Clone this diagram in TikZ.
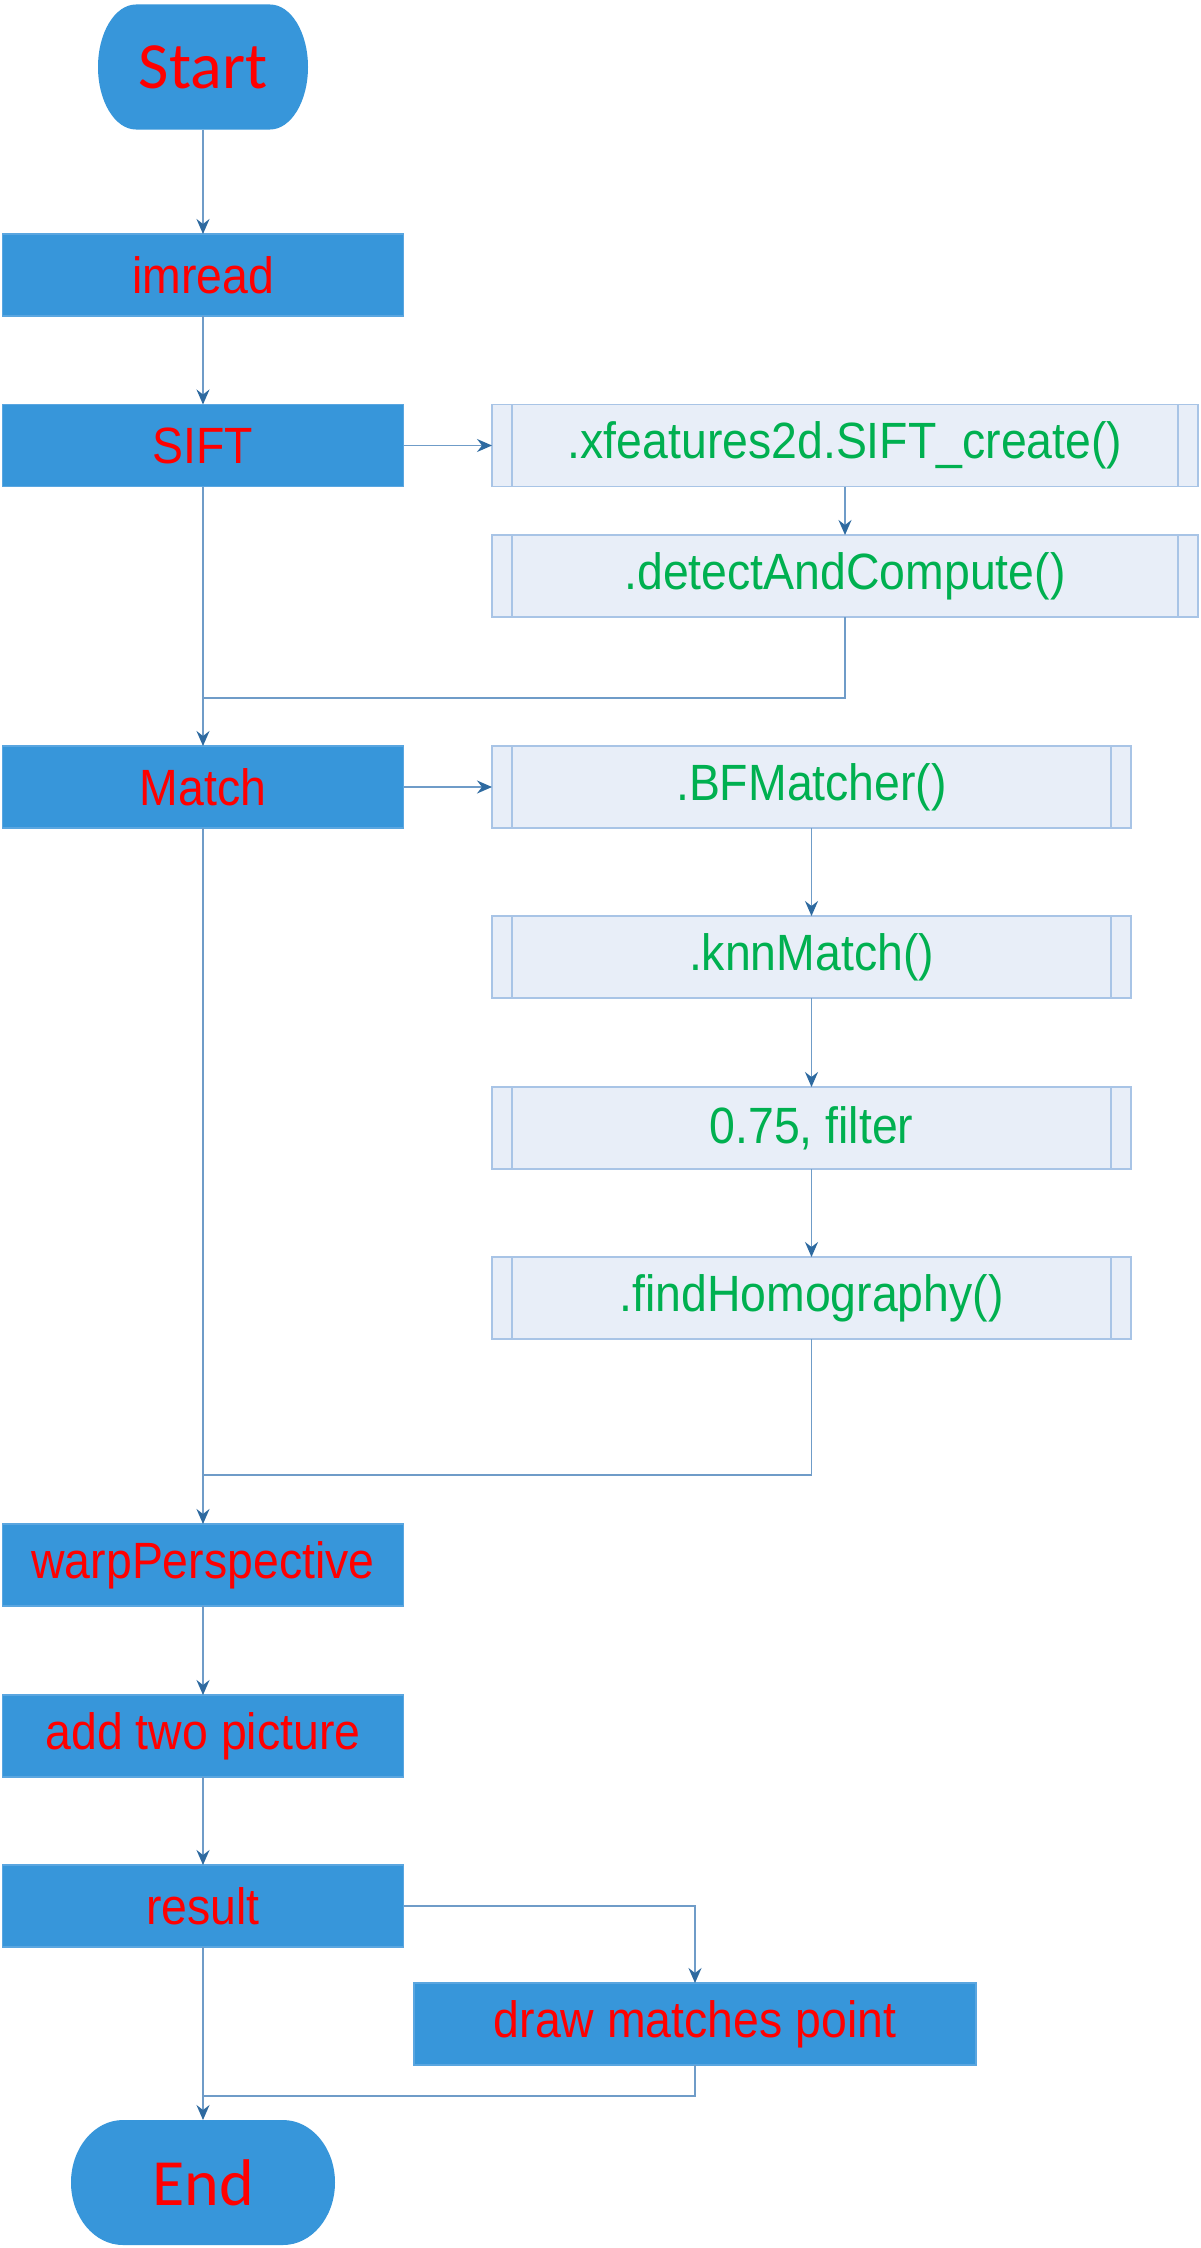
\documentclass[tikz,border=0pt]{standalone}
\usepackage{fontspec}
\usepackage{graphicx}
\setmainfont{Liberation Sans}
\newfontfamily\calib{Carlito}
\usetikzlibrary{arrows.meta}
\pgfdeclarelayer{background}
\pgfsetlayers{background,main}
\definecolor{boxblue}{HTML}{3796DA}
\definecolor{boxedge}{HTML}{5AA6E0}
\definecolor{lightfill}{HTML}{E8EEF8}
\definecolor{lightedge}{HTML}{A8C4E6}
\definecolor{linecol}{HTML}{6F9CC8}
\definecolor{tipcol}{HTML}{2E6AA0}
\definecolor{txtgreen}{HTML}{00B050}
\definecolor{txtred}{HTML}{FF0000}
\newcommand{\cnd}[1]{\scalebox{0.91}[1]{#1}}
\tikzset{
  every node/.style={inner sep=0pt, outer sep=0pt},
  mainbox/.style={draw=boxedge, fill=boxblue, line width=1.5pt, minimum width=401pt, minimum height=82pt, text=txtred, font=\fontsize{51}{56}\selectfont},
  termtext/.style={minimum height=125pt, text=txtred, font=\calib\fontsize{66}{70}\selectfont},
  subbox/.style={draw=lightedge, fill=lightfill, line width=1.5pt, minimum height=82pt, text=txtgreen, font=\fontsize{51}{56}\selectfont},
  conn/.style={draw=linecol, line width=1.6pt},
  arr/.style={conn, -{Stealth[length=15pt,width=13pt,inset=5pt,color=tipcol]}},
}
\begin{document}
\begin{tikzpicture}[x=1pt,y=-1pt]
\useasboundingbox (0,0) rectangle (1200,2248);
% main column
\node[termtext, minimum width=210pt] (start) at (203,67) {Start};
\node[mainbox] (imread) at (203,275) {\cnd{imread}};
\node[mainbox] (sift) at (203,445.5) {\cnd{SIFT}};
\node[mainbox] (match) at (203,787) {\cnd{Match}};
\node[mainbox] (warp) at (203,1565) {\cnd{warpPerspective}};
\node[mainbox] (add) at (203,1736) {\cnd{add two picture}};
\node[mainbox] (result) at (203,1906) {\cnd{result}};
\node[termtext, minimum width=264pt] (end) at (203,2182.5) {End};
% background and terminator shapes
\begin{pgfonlayer}{background}
\fill[white] (0,0) rectangle (1200,2248);
\fill[boxblue] ([xshift=38pt]start.north west) -- ([xshift=-38pt]start.north east)
  arc[start angle=90, end angle=-90, x radius=38pt, y radius=62.5pt]
  -- ([xshift=38pt]start.south west)
  arc[start angle=270, end angle=90, x radius=38pt, y radius=62.5pt] -- cycle;
\fill[boxblue] ([xshift=52pt]end.north west) -- ([xshift=-52pt]end.north east)
  arc[start angle=90, end angle=-90, x radius=52pt, y radius=62.5pt]
  -- ([xshift=52pt]end.south west)
  arc[start angle=270, end angle=90, x radius=52pt, y radius=62.5pt] -- cycle;
\end{pgfonlayer}
% right column
\node[subbox, minimum width=706pt] (xfeat) at (845,445.5) {\cnd{.xfeatures2d.SIFT\_create()}};
\node[subbox, minimum width=706pt] (detect) at (845,576) {\cnd{.detectAndCompute()}};
\node[subbox, minimum width=639pt] (bf) at (811.5,787) {\cnd{.BFMatcher()}};
\node[subbox, minimum width=639pt] (knn) at (811.5,957) {\cnd{.knnMatch()}};
\node[subbox, minimum width=639pt] (filt) at (811.5,1128) {\cnd{0.75, filter}};
\node[subbox, minimum width=639pt] (findh) at (811.5,1298) {\cnd{.findHomography()}};
\node[mainbox, minimum width=562pt] (drawm) at (695,2024) {\cnd{draw matches point}};
% inner side lines of the sub-process boxes
\foreach \n in {xfeat,detect,bf,knn,filt,findh}{
  \draw[lightedge, line width=1.5pt] ([xshift=20pt]\n.north west) -- ([xshift=20pt]\n.south west);
  \draw[lightedge, line width=1.5pt] ([xshift=-20pt]\n.north east) -- ([xshift=-20pt]\n.south east);
}
% join coordinates
\coordinate (j1) at (203,698);
\coordinate (j2) at (203,1475);
\coordinate (j3) at (203,2096);
\coordinate (r1) at (drawm.north |- result.east);
% connectors
\draw[arr] (start.south) -- (imread.north);
\draw[arr] (imread.south) -- (sift.north);
\draw[arr] (sift.south) -- (match.north);
\draw[arr] (sift.east) -- (xfeat.west);
\draw[arr] (xfeat.south) -- (detect.north);
\draw[conn] (detect.south) |- (j1);
\draw[arr] (match.east) -- (bf.west);
\draw[arr] (bf.south) -- (knn.north);
\draw[arr] (knn.south) -- (filt.north);
\draw[arr] (filt.south) -- (findh.north);
\draw[conn] (findh.south) |- (j2);
\draw[arr] (match.south) -- (warp.north);
\draw[arr] (warp.south) -- (add.north);
\draw[arr] (add.south) -- (result.north);
\draw[arr] (result.east) -- (r1) -- (drawm.north);
\draw[conn] (drawm.south) |- (j3);
\draw[arr] (result.south) -- (end.north);
\end{tikzpicture}
\end{document}
